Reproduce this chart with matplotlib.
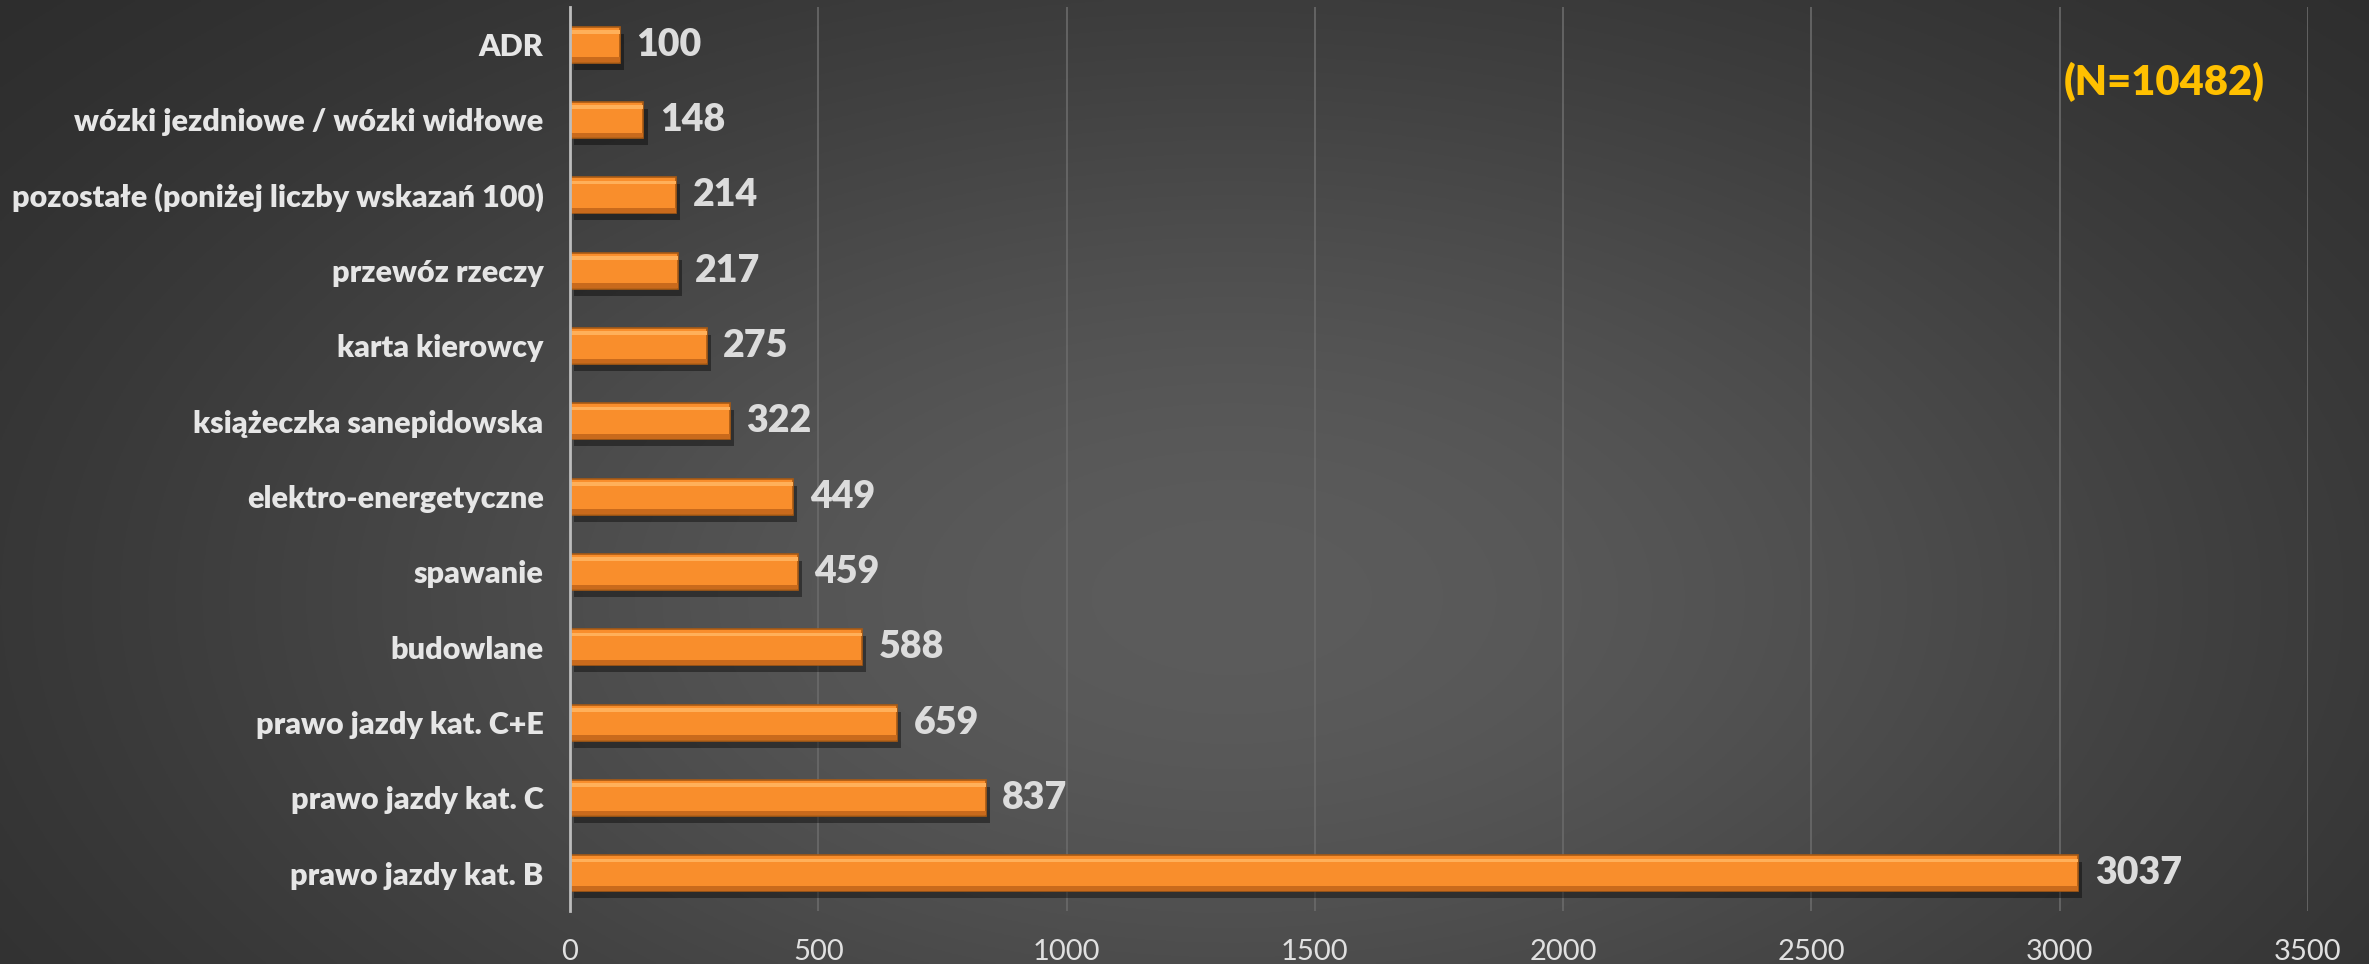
import numpy as np
import matplotlib
matplotlib.use("Agg")
import matplotlib.pyplot as plt
import matplotlib.patheffects as pe

categories = ["prawo jazdy kat. B", "prawo jazdy kat. C", "prawo jazdy kat. C+E",
              "budowlane", "spawanie", "elektro-energetyczne",
              "książeczka sanepidowska", "karta kierowcy", "przewóz rzeczy",
              "pozostałe (poniżej liczby wskazań 100)",
              "wózki jezdniowe / wózki widłowe", "ADR"]
values = [3037, 837, 659, 588, 459, 449, 322, 275, 217, 214, 148, 100]
xticks = [0, 500, 1000, 1500, 2000, 2500, 3000, 3500]
note = "(N=10482)"

plt.rcParams['font.family'] = ['Lato', 'DejaVu Sans']

W, H = 2369, 964
fig = plt.figure(figsize=(W / 100, H / 100), dpi=100)

# background radial gradient
bg = fig.add_axes([0, 0, 1, 1], zorder=-10)
yy, xx = np.mgrid[0:1:400j, 0:1:1000j]
r2 = ((xx - 0.52) / 0.55) ** 2 + ((yy - 0.62) / 0.75) ** 2
val = 0.15 + 0.21 * np.exp(-r2 * 1.3)
img = np.dstack([val, val, val])
bg.imshow(img, aspect='auto', extent=[0, 1, 0, 1], origin='upper')
bg.axis('off')

ax = fig.add_axes([570 / W, 1 - 911 / H, (2308 - 570) / W, (911 - 7) / H])
ax.patch.set_alpha(0)

y = np.arange(len(categories))
bars = ax.barh(y, values, height=0.48, color='#F98E2C', edgecolor='#A85A14',
               linewidth=1.2, zorder=3)
for b in bars:
    b.set_path_effects([pe.SimplePatchShadow(offset=(3, -5), shadow_rgbFace='black', alpha=0.4),
                        pe.Normal()])
# top highlight
ax.barh(y + 0.17, values, height=0.05, color='#FFB05A', linewidth=0, zorder=4)
# bottom dark bevel
ax.barh(y - 0.2, values, height=0.06, color='#C96A1C', linewidth=0, zorder=4)

for yi, v in zip(y, values):
    ax.annotate(f"{v}", xy=(v, yi), xytext=(12, 0), textcoords='offset points',
                va='center', ha='left', fontsize=27, fontweight='heavy', color='#DCDCDC')

ax.set_xlim(0, 3500)
ax.set_ylim(-0.5, len(categories) - 0.5)
ax.set_xticks(xticks)
ax.set_xticklabels([str(t) for t in xticks])
ax.set_yticks(y)
ax.set_yticklabels(categories)
ax.tick_params(axis='y', length=0, pad=19, labelsize=22, labelcolor='#E6E6E6')
ax.tick_params(axis='x', length=0, pad=20, labelsize=21, labelcolor='#E0E0E0')
for lab in ax.get_yticklabels():
    lab.set_fontweight('heavy')
ax.grid(axis='x', color='#6A6A6A', linewidth=1.2, zorder=0)
for s in ['top', 'right', 'bottom']:
    ax.spines[s].set_visible(False)
ax.spines['left'].set_color('#BDBDBD')
ax.spines['left'].set_linewidth(2)
ax.spines['left'].set_zorder(5)

fig.text(2164 / W, 1 - 82 / H, note, ha='center', va='center', fontsize=30,
         fontweight='heavy', color='#FFC000')

fig.savefig('out.png', dpi=100)
